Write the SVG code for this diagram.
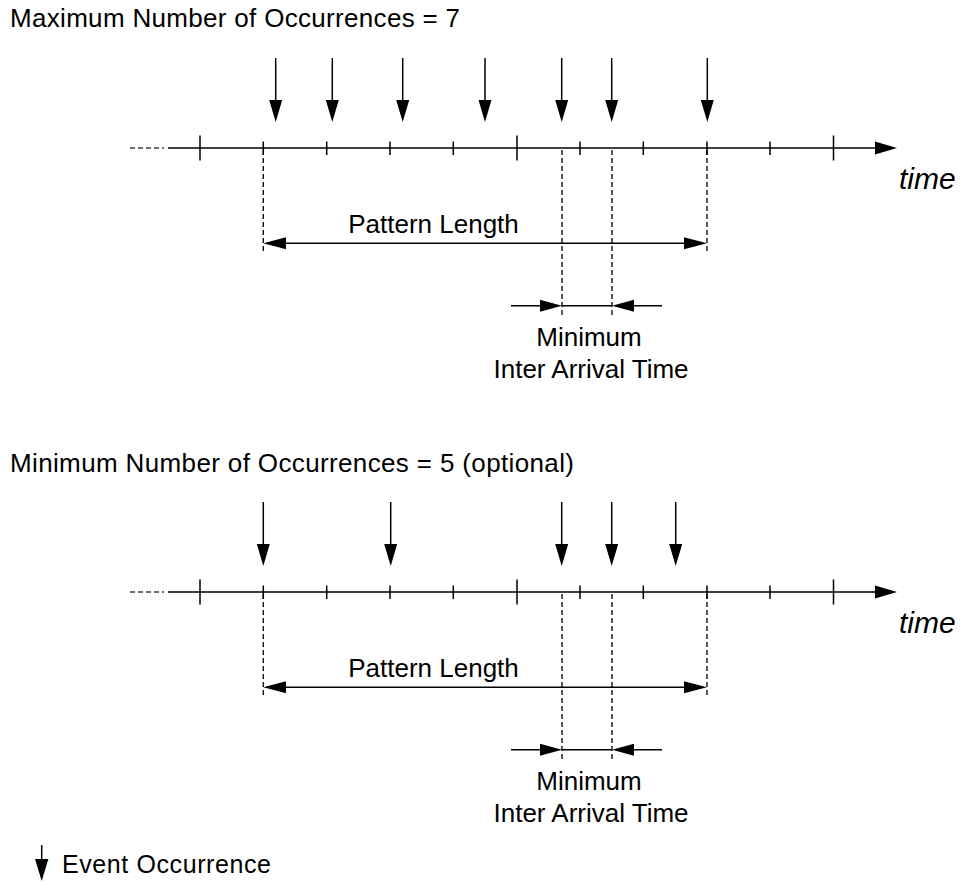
<svg xmlns="http://www.w3.org/2000/svg" xmlns:xlink="http://www.w3.org/1999/xlink" width="964" height="882" viewBox="0 0 964 882">
<style>
.t{font-family:"Liberation Sans",Arial,sans-serif;font-size:26px;fill:#000}
.it{font-family:"Liberation Sans",Arial,sans-serif;font-size:30px;font-style:italic;fill:#000}
.axis{stroke:#404040;stroke-width:2;fill:none}
.tick{stroke:#000;stroke-width:1.5}
.dash{stroke:#000;stroke-width:1.3;stroke-dasharray:5,3;fill:none}
.ln{stroke:#000;stroke-width:1.5;fill:none}
.hd{fill:#000}
</style>
<defs>
<g id="evt">
<line x1="0" y1="0" x2="0" y2="44" class="ln"/>
<polygon points="-6.5,42 6.5,42 0,64" class="hd"/>
</g>
<g id="timeline">
<line x1="130" y1="148" x2="164" y2="148" stroke="#404040" stroke-width="1.5" stroke-dasharray="5,3"/>
<line x1="168" y1="148" x2="878" y2="148" class="axis"/>
<polygon points="875,141.5 897,148 875,154.5" class="hd"/>
<path class="tick" d="M200,135.5V160.5 M517,135.5V160.5 M833.5,135.5V160.5 M263.3,141.5V155 M326.7,141.5V155 M390,141.5V155 M453.3,141.5V155 M580,141.5V155 M643.3,141.5V155 M707,141.5V155 M770,141.5V155"/>
<path class="dash" d="M263.3,150V253 M707,150V253 M562,150V318 M612,150V318"/>
<line x1="270" y1="243.3" x2="700" y2="243.3" class="ln"/>
<polygon points="263.3,243.3 286,237.3 286,249.3" class="hd"/>
<polygon points="707,243.3 684,237.3 684,249.3" class="hd"/>
<line x1="511" y1="305.7" x2="556" y2="305.7" class="ln"/>
<polygon points="562,305.7 540,299.7 540,311.7" class="hd"/>
<line x1="562" y1="305.7" x2="612" y2="305.7" class="ln"/>
<line x1="618" y1="305.7" x2="662" y2="305.7" class="ln"/>
<polygon points="612,305.7 634,299.7 634,311.7" class="hd"/>
</g>
</defs>
<g id="connectors">
<use xlink:href="#timeline"/>
<use xlink:href="#timeline" transform="translate(0,444)"/>
<g id="events-top">
<use xlink:href="#evt" x="275.7" y="58"/>
<use xlink:href="#evt" x="332.3" y="58"/>
<use xlink:href="#evt" x="402.7" y="58"/>
<use xlink:href="#evt" x="485" y="58"/>
<use xlink:href="#evt" x="561.7" y="58"/>
<use xlink:href="#evt" x="611.7" y="58"/>
<use xlink:href="#evt" x="707.3" y="58"/>
</g>
<g id="events-bottom">
<use xlink:href="#evt" x="263.3" y="502"/>
<use xlink:href="#evt" x="390.7" y="502"/>
<use xlink:href="#evt" x="561.7" y="502"/>
<use xlink:href="#evt" x="611.7" y="502"/>
<use xlink:href="#evt" x="675.7" y="502"/>
</g>
</g>
<g id="top-labels">
<text class="t" x="10" y="27" textLength="450" lengthAdjust="spacing">Maximum Number of Occurrences = 7</text>
<text class="it" x="899" y="189">time</text>
<text class="t" x="433.5" y="233" text-anchor="middle">Pattern Length</text>
<text class="t" x="589" y="346" text-anchor="middle">Minimum</text>
<text class="t" x="591" y="378" text-anchor="middle">Inter Arrival Time</text>
</g>
<g id="bottom-labels">
<text class="t" x="10" y="472" textLength="564" lengthAdjust="spacing">Minimum Number of Occurrences = 5 (optional)</text>
<text class="it" x="899" y="633">time</text>
<text class="t" x="433.5" y="677" text-anchor="middle">Pattern Length</text>
<text class="t" x="589" y="790" text-anchor="middle">Minimum</text>
<text class="t" x="591" y="822" text-anchor="middle">Inter Arrival Time</text>
</g>
<g id="legend">
<line x1="41.7" y1="845" x2="41.7" y2="862" class="ln"/>
<polygon points="35,859 48.4,859 41.7,881" class="hd"/>
<text class="t" x="62" y="873" style="font-size:25px" textLength="209" lengthAdjust="spacing">Event Occurrence</text>
</g>
</svg>
